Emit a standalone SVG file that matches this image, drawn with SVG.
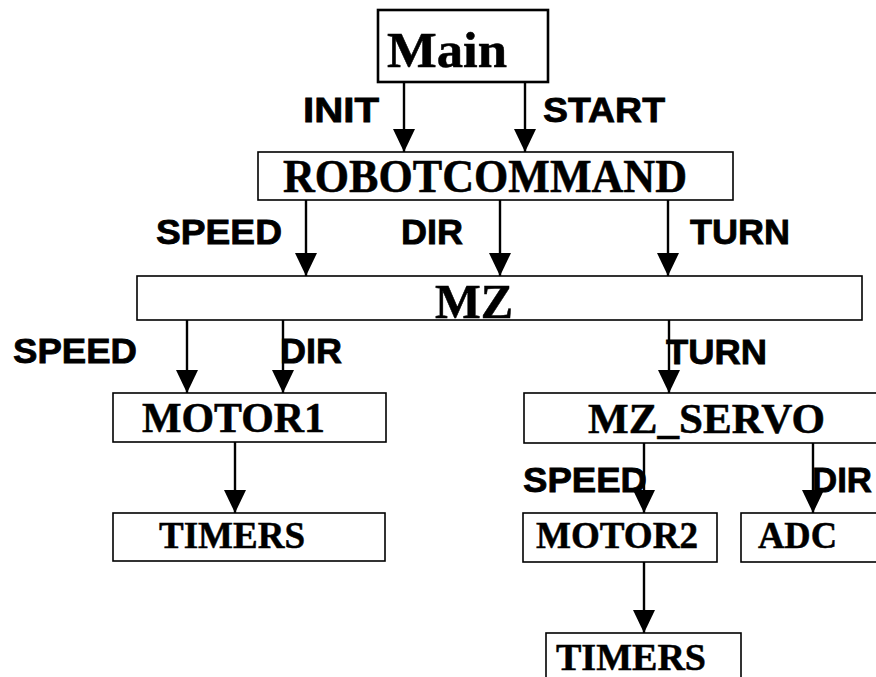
<svg xmlns="http://www.w3.org/2000/svg" width="876" height="677" viewBox="0 0 876 677">
<style>
.box{fill:#fff;stroke:#000;stroke-width:1.6}
.main{fill:#fff;stroke:#000;stroke-width:2.6}
.nt{font-family:"Liberation Serif","Times New Roman",serif;font-weight:bold;fill:#000;stroke:#000;stroke-width:0.5}
.lb{font-family:"Liberation Sans",Arial,sans-serif;font-weight:bold;font-size:35px;fill:#000;stroke:#000;stroke-width:0.8}
.ln{stroke:#000;stroke-width:2.4;fill:none;marker-end:url(#ah)}
</style>
<defs>
<marker id="ah" viewBox="0 0 23 22" refX="23" refY="11" markerWidth="23" markerHeight="22" markerUnits="userSpaceOnUse" orient="auto">
<path d="M0,0 L23,11 L0,22 Z" fill="#000"/>
</marker>
</defs>
<rect width="876" height="677" fill="#fff"/>
<g id="main"><rect class="main" x="378" y="10" width="170" height="72"/><text class="nt" x="387" y="67" font-size="50" textLength="120" lengthAdjust="spacingAndGlyphs">Main</text></g>
<g id="robotcommand"><rect class="box" x="258" y="152" width="475" height="48"/><text class="nt" x="283" y="192" font-size="46" textLength="404" lengthAdjust="spacingAndGlyphs">ROBOTCOMMAND</text></g>
<g id="mz"><rect class="box" x="137" y="276" width="725" height="44"/><text class="nt" x="435" y="318" font-size="48" textLength="78" lengthAdjust="spacingAndGlyphs">MZ</text></g>
<g id="motor1"><rect class="box" x="113" y="393" width="273" height="49"/><text class="nt" x="142" y="432" font-size="42" textLength="183" lengthAdjust="spacingAndGlyphs">MOTOR1</text></g>
<g id="timers1"><rect class="box" x="113" y="513" width="272" height="48"/><text class="nt" x="159" y="548" font-size="38" textLength="146" lengthAdjust="spacingAndGlyphs">TIMERS</text></g>
<g id="mz_servo"><rect class="box" x="524" y="393" width="360" height="50"/><text class="nt" x="588" y="433" font-size="43" textLength="237" lengthAdjust="spacingAndGlyphs">MZ_SERVO</text></g>
<g id="motor2"><rect class="box" x="523" y="513" width="194" height="49"/><text class="nt" x="536" y="548" font-size="38" textLength="162" lengthAdjust="spacingAndGlyphs">MOTOR2</text></g>
<g id="adc"><rect class="box" x="741" y="513" width="150" height="49"/><text class="nt" x="758" y="548" font-size="38" textLength="79" lengthAdjust="spacingAndGlyphs">ADC</text></g>
<g id="timers2"><rect class="box" x="546" y="633" width="195" height="60"/><text class="nt" x="556" y="670" font-size="38" textLength="150" lengthAdjust="spacingAndGlyphs">TIMERS</text></g>
<g id="connectors">
<line class="ln" x1="404" y1="82" x2="404" y2="152"/>
<line class="ln" x1="525" y1="82" x2="525" y2="152"/>
<line class="ln" x1="306" y1="200" x2="306" y2="276"/>
<line class="ln" x1="500" y1="200" x2="500" y2="276"/>
<line class="ln" x1="668" y1="200" x2="668" y2="276"/>
<line class="ln" x1="187" y1="320" x2="187" y2="393"/>
<line class="ln" x1="283" y1="320" x2="283" y2="393"/>
<line class="ln" x1="669" y1="320" x2="669" y2="393"/>
<line class="ln" x1="235" y1="442" x2="235" y2="513"/>
<line class="ln" x1="644" y1="443" x2="644" y2="513"/>
<line class="ln" x1="813" y1="443" x2="813" y2="513"/>
<line class="ln" x1="644" y1="562" x2="644" y2="633"/>
<text class="lb" x="303" y="122" textLength="76" lengthAdjust="spacingAndGlyphs">INIT</text>
<text class="lb" x="543" y="122" textLength="122" lengthAdjust="spacingAndGlyphs">START</text>
<text class="lb" x="156" y="244" textLength="126" lengthAdjust="spacingAndGlyphs">SPEED</text>
<text class="lb" x="401" y="244" textLength="62" lengthAdjust="spacingAndGlyphs">DIR</text>
<text class="lb" x="690" y="244" textLength="100" lengthAdjust="spacingAndGlyphs">TURN</text>
<text class="lb" x="13" y="363" textLength="124" lengthAdjust="spacingAndGlyphs">SPEED</text>
<text class="lb" x="280" y="363" textLength="62" lengthAdjust="spacingAndGlyphs">DIR</text>
<text class="lb" x="666" y="364" textLength="101" lengthAdjust="spacingAndGlyphs">TURN</text>
<text class="lb" x="523" y="492" textLength="124" lengthAdjust="spacingAndGlyphs">SPEED</text>
<text class="lb" x="812" y="492" textLength="60" lengthAdjust="spacingAndGlyphs">DIR</text>
</g>
</svg>
